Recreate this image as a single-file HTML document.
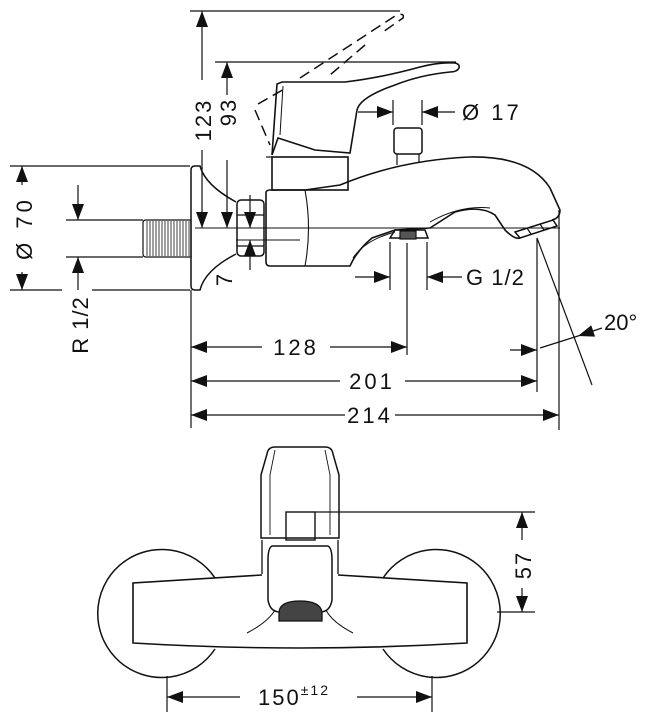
<!DOCTYPE html>
<html><head><meta charset="utf-8"><style>
html,body{margin:0;padding:0;background:#fff;}
svg{display:block;}
text{font-family:"Liberation Sans",sans-serif;fill:#111;}
</style></head><body>
<svg width="652" height="722" viewBox="0 0 652 722" xmlns="http://www.w3.org/2000/svg">
<defs>
<marker id="a" viewBox="0 0 16 12" refX="16" refY="6" markerWidth="16" markerHeight="12" markerUnits="userSpaceOnUse" orient="auto"><path d="M0,0 L16,6 L0,12Z" fill="#111"/></marker>
</defs>
<g stroke="#111" fill="none" stroke-width="1.2">
<line x1="190" y1="11" x2="400" y2="11"/>
<line x1="215" y1="62" x2="456" y2="62"/>
<line x1="202" y1="30" x2="202" y2="11" marker-end="url(#a)"/>
<line x1="202" y1="30" x2="202" y2="80"/>
<line x1="202" y1="150" x2="202" y2="228" marker-end="url(#a)"/>
<line x1="227" y1="80" x2="227" y2="62" marker-end="url(#a)"/>
<line x1="227" y1="80" x2="227" y2="95"/>
<line x1="227" y1="160" x2="227" y2="228" marker-end="url(#a)"/>
<line x1="250" y1="195" x2="250" y2="228" marker-end="url(#a)"/>
<line x1="250" y1="270" x2="250" y2="240" marker-end="url(#a)"/>
<line x1="195" y1="228" x2="560" y2="228" stroke-width="0.9"/>
<line x1="236" y1="240" x2="300" y2="240" stroke-width="0.9"/>
<line x1="10" y1="166" x2="190" y2="166"/>
<line x1="10" y1="290" x2="62" y2="290"/>
<line x1="92" y1="290" x2="190" y2="290"/>
<line x1="22" y1="185" x2="22" y2="166" marker-end="url(#a)"/>
<line x1="22" y1="272" x2="22" y2="290" marker-end="url(#a)"/>
<line x1="66" y1="220" x2="143" y2="220"/>
<line x1="66" y1="257" x2="143" y2="257"/>
<line x1="78" y1="185" x2="78" y2="220" marker-end="url(#a)"/>
<line x1="78" y1="290" x2="78" y2="257" marker-end="url(#a)"/>
<path d="M146,220 H191 V257 H146 Q143,257 143,254 V223 Q143,220 146,220Z"/>
<path d="M147,221V256M150,221V256M153,221V256M156,221V256M159,221V256M162,221V256M165,221V256M168,221V256M171,221V256M174,221V256M177,221V256M180,221V256M183,221V256M186,221V256M189,221V256" stroke-width="0.8"/>
<path d="M236,202 Q205,185 200,166 H195 Q191,166 191,170 V286 Q191,290 195,290 H200 Q205,270 236,254" stroke-width="1.5"/>
<rect x="237" y="200" width="27" height="56" rx="4" stroke-width="1.5"/>
<line x1="237" y1="215" x2="264" y2="215"/><line x1="237" y1="246" x2="264" y2="246"/>
<path d="M266,193 Q266,190 270,190 H305 L340,185 Q400,160 470,157 Q530,156 550,188 L560,210 Q560,218 552,220 M266,193 V262 Q266,266 270,266 H350 L353,260 Q360,248 372,238 L395,230 L430,228 L455,212 Q480,205 495,215 L505,230 Q515,240 520,238" stroke-width="1.6"/>
<path d="M305,190 Q312,228 305,266" stroke-width="1.1"/>
<path d="M353,258 Q365,240 395,232 M430,222 Q460,205 490,208" stroke-width="1"/>
<path d="M515,232 L553,220 L557,226 L520,238 Z" stroke-width="1.5"/>
<line x1="527" y1="228" x2="531" y2="234"/><line x1="540" y1="224" x2="544" y2="230"/>
<path d="M390,238 L395,230 H425 L428,238 Z" stroke-width="1.5"/>
<rect x="400" y="231" width="16" height="8" fill="#555"/>
<rect x="272" y="157" width="76" height="33" stroke-width="1.6"/>
<line x1="266" y1="157" x2="272" y2="157"/>
<path d="M272,155 L277,84 L282,82 H345 Q380,78 420,67 Q440,62 455,63 Q460,64 459,68 Q457,72 450,72 Q420,75 395,85 Q360,97 357,110 L350,153 L315,150 L278,138 Z" stroke-width="1.6"/>
<path d="M283,86 L280,135" stroke-width="1"/>
<path d="M255,110 L270,145 M258,104 L286,88 M300,78 L395,16 Q405,12 403,18 L380,34 M365,45 L330,75" stroke-dasharray="11,6" stroke-width="1.5"/>
<rect x="394" y="128" width="28" height="26" rx="3" stroke-width="1.5"/>
<line x1="397" y1="154" x2="397" y2="165"/><line x1="419" y1="154" x2="419" y2="162"/>
<line x1="393" y1="100" x2="393" y2="125"/><line x1="422" y1="100" x2="422" y2="125"/>
<line x1="358" y1="112" x2="393" y2="112" marker-end="url(#a)"/>
<line x1="455" y1="112" x2="422" y2="112" marker-end="url(#a)"/>
<line x1="390" y1="242" x2="390" y2="290"/><line x1="427" y1="242" x2="427" y2="290"/>
<line x1="407" y1="243" x2="407" y2="355"/>
<line x1="355" y1="277" x2="390" y2="277" marker-end="url(#a)"/>
<line x1="462" y1="277" x2="427" y2="277" marker-end="url(#a)"/>
<line x1="537" y1="238" x2="537" y2="392"/>
<line x1="559" y1="210" x2="559" y2="430"/>
<line x1="537" y1="238" x2="592" y2="385"/>
<line x1="510" y1="350" x2="537" y2="350" marker-end="url(#a)"/>
<line x1="540" y1="348" x2="578" y2="336"/>
<line x1="602" y1="328" x2="578" y2="336" marker-end="url(#a)"/>
<line x1="191" y1="290" x2="191" y2="428"/>
<line x1="262" y1="347" x2="191" y2="347" marker-end="url(#a)"/>
<line x1="330" y1="347" x2="407" y2="347" marker-end="url(#a)"/>
<line x1="340" y1="381" x2="191" y2="381" marker-end="url(#a)"/>
<line x1="405" y1="381" x2="537" y2="381" marker-end="url(#a)"/>
<line x1="345" y1="415" x2="191" y2="415" marker-end="url(#a)"/>
<line x1="395" y1="415" x2="559" y2="415" marker-end="url(#a)"/>

<path d="M215,578 A64,64 0 1 0 215,649" stroke-width="1.5"/>
<path d="M383,578 A64,64 0 1 1 383,649" stroke-width="1.5"/>
<path d="M262,575 L133,583 V643 Q300,653 467,643 V583 L338,575" stroke-width="1.6"/>
<path d="M267,454 Q268,447 275,447 H325 Q332,447 333,454 L339,475 V538 H261 V475 Z" stroke-width="1.5"/>
<path d="M275,450 L270,475 V535 M325,450 L330,475 V535" stroke-width="0.9"/>
<rect x="286" y="512" width="29" height="28" stroke-width="1.4"/>
<path d="M262,540 V574 M338,540 V574" stroke-width="1.3"/>
<path d="M272,546 Q268,548 268,560 V600 Q270,612 280,612 L320,612 Q330,612 332,600 V560 Q332,548 328,546 Z" stroke-width="1.5"/>
<path d="M279,612 Q280,601 300,601 Q320,601 322,612 V621 H279 Z" fill="#444" stroke-width="1.3"/>
<path d="M247,633 Q268,622 275,610 M353,633 Q332,622 326,610" stroke-width="1"/>
<line x1="315" y1="512" x2="535" y2="512"/>
<line x1="497" y1="612" x2="535" y2="612"/>
<line x1="522" y1="535" x2="522" y2="512" marker-end="url(#a)"/>
<line x1="522" y1="535" x2="522" y2="540"/>
<line x1="522" y1="588" x2="522" y2="612" marker-end="url(#a)"/>
<line x1="167" y1="676" x2="167" y2="712"/>
<line x1="432" y1="676" x2="432" y2="712"/>
<line x1="240" y1="697" x2="167" y2="697" marker-end="url(#a)"/>
<line x1="357" y1="697" x2="432" y2="697" marker-end="url(#a)"/>
</g>
<g font-size="22">
<text transform="translate(211,120) rotate(-90)" text-anchor="middle" letter-spacing="2">123</text>
<text transform="translate(236,112) rotate(-90)" text-anchor="middle" letter-spacing="2">93</text>
<text transform="translate(232,280) rotate(-90)" text-anchor="middle">7</text>
<text transform="translate(32,228) rotate(-90)" text-anchor="middle" letter-spacing="4">Ø 70</text>
<text transform="translate(88,325) rotate(-90)" text-anchor="middle" letter-spacing="1">R 1/2</text>
<text x="462" y="120" letter-spacing="3">Ø 17</text>
<text x="466" y="285" letter-spacing="1">G 1/2</text>
<text x="604" y="330">20°</text>
<text x="296" y="355" text-anchor="middle" letter-spacing="3">128</text>
<text x="372" y="389" text-anchor="middle" letter-spacing="3">201</text>
<text x="370" y="423" text-anchor="middle" letter-spacing="3">214</text>
<text transform="translate(531,565) rotate(-90)" text-anchor="middle" letter-spacing="2">57</text>
<text x="258" y="705" letter-spacing="2">150<tspan font-size="14" dy="-10">±12</tspan></text>
</g>
</svg>
</body></html>
